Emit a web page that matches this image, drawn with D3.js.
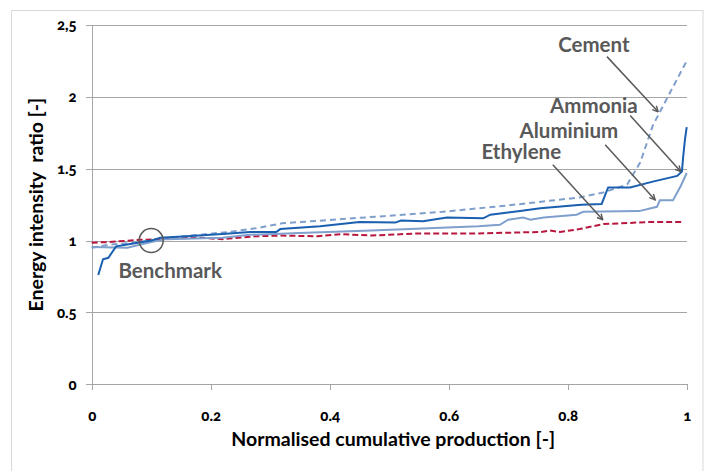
<!DOCTYPE html>
<html>
<head>
<meta charset="utf-8">
<script src="https://d3js.org/d3.v7.min.js"></script>
<style>
body { margin: 0; background: #fff; }
text { font-family: Lato, "Open Sans", sans-serif; }
.grid line { stroke: #a6a6a6; shape-rendering: crispEdges; }
.grid path { stroke-width: 0; }
.axis path, .axis line { stroke: #a6a6a6; shape-rendering: crispEdges; }
.axis text { font-size: 15px; font-weight: 900; fill: #000; font-variant-numeric: oldstyle-nums; }
.note { font-size: 20.5px; font-weight: bold; fill: #595959; }
.title { font-size: 19.5px; font-weight: bold; fill: #000; }
</style>
</head>
<body>
<svg></svg>
<script>

// values: [normalised cumulative production, energy intensity ratio]
var ammonia = [[0.011,0.76],[0.019,0.87],[0.028,0.88],[0.041,0.96],[0.07,0.98],[0.1,1.0],[0.115,1.02],
    [0.16,1.03],[0.22,1.045],[0.266,1.06],[0.31,1.06],[0.317,1.08],[0.384,1.1],[0.45,1.13],[0.51,1.125],
    [0.52,1.14],[0.557,1.135],[0.597,1.16],[0.658,1.155],[0.67,1.18],[0.72,1.205],[0.754,1.225],
    [0.823,1.25],[0.857,1.255],[0.868,1.37],[0.905,1.37],[0.943,1.41],[0.984,1.45],[0.992,1.48],
    [0.994,1.58],[0.997,1.70],[1.0,1.79]];
var aluminium = [[0,0.955],[0.06,0.95],[0.1,0.99],[0.125,1.01],[0.22,1.02],[0.266,1.04],[0.36,1.055],
    [0.47,1.07],[0.535,1.08],[0.65,1.1],[0.686,1.11],[0.7,1.145],[0.725,1.16],[0.737,1.145],[0.76,1.16],
    [0.815,1.18],[0.826,1.2],[0.92,1.205],[0.95,1.235],[0.955,1.28],[0.977,1.28],[0.99,1.38],[1.0,1.47]];
var cement = [[0,0.95],[0.028,0.97],[0.08,0.99],[0.13,1.02],[0.23,1.06],[0.275,1.085],[0.32,1.12],
    [0.405,1.145],[0.49,1.17],[0.59,1.2],[0.70,1.245],[0.82,1.30],[0.86,1.335],[0.9,1.39],[0.922,1.545],
    [0.943,1.80],[0.972,2.03],[1.0,2.25]];
var ethylene = [[0,0.985],[0.03,0.99],[0.08,1.005],[0.18,1.02],[0.22,1.01],[0.275,1.03],[0.32,1.035],
    [0.38,1.03],[0.42,1.045],[0.47,1.035],[0.55,1.05],[0.65,1.05],[0.755,1.06],[0.77,1.07],[0.787,1.06],
    [0.82,1.08],[0.86,1.115],[0.943,1.13],[0.994,1.13]];

var xTicks = [0, 0.2, 0.4, 0.6, 0.8, 1];
var xTickLabels = ["0", "0.2", "0.4", "0.6", "0.8", "1"];
var yTicks = [0, 0.5, 1, 1.5, 2, 2.5];
var yTickLabels = ["0", "0.5", "1", "1.5", "2", "2,5"];

// annotation labels and arrows, in data units
var labels = [["Cement", 0.844, 2.314], ["Ammonia", 0.844, 1.89], ["Aluminium", 0.802, 1.715],
    ["Ethylene", 0.722, 1.568], ["Benchmark", 0.132, 0.74]];
var arrows = [[0.866, 2.28, 0.952, 1.896], [0.905, 1.87, 0.99, 1.48],
    [0.863, 1.666, 0.947, 1.283], [0.775, 1.528, 0.859, 1.145]];
var benchmark = [0.1, 1.0];

var mLeft = 91.7, mTop = 25, width = 595, height = 359.3;

var svg = d3.select("svg").attr("width", 709).attr("height", 471);

// outer frame
svg.append("rect")
    .attr("x", 11.5).attr("y", 10.5)
    .attr("width", 691.5).attr("height", 480)
    .style("fill", "none")
    .style("stroke", "#d9d9d9");

var x = d3.scaleLinear().domain([0, 1]).range([0, width]);
var y = d3.scaleLinear().domain([0, 2.5]).range([height, 0]);

var g = svg.append("g").attr("transform", "translate(" + mLeft + "," + mTop + ")");

// horizontal gridlines
g.append("g")
    .attr("class", "grid")
    .call(d3.axisLeft(y).tickValues(yTicks.slice(1)).tickSize(-width).tickFormat(''));

// Y axis
g.append("g")
    .attr("class", "axis")
    .call(d3.axisLeft(y).tickValues(yTicks).tickSize(6).tickSizeOuter(0).tickPadding(9)
        .tickFormat(function(d, i) { return yTickLabels[i]; }));

// X axis
g.append("g")
    .attr("class", "axis")
    .attr("transform", "translate(0," + height + ")")
    .call(d3.axisBottom(x).tickValues(xTicks).tickSize(6).tickSizeOuter(0).tickPadding(20)
        .tickFormat(function(d, i) { return xTickLabels[i]; }));

// axis titles
svg.append("text")
    .attr("class", "title")
    .attr("x", mLeft + width / 2 + 4)
    .attr("y", 446)
    .attr("text-anchor", "middle")
    .text("Normalised cumulative production [-]");

svg.append("text")
    .attr("class", "title")
    .attr("transform", "translate(43," + (mTop + height / 2) + ") rotate(-90)")
    .attr("text-anchor", "middle")
    .style("white-space", "pre")
    .text("Energy intensity  ratio [-]");

var line = d3.line()
    .x(function(d) { return x(d[0]); })
    .y(function(d) { return y(d[1]); });

// series
g.append("path").datum(ethylene).attr("d", line)
    .style("fill", "none").style("stroke", "#b8173e").style("stroke-width", 2)
    .style("stroke-dasharray", "6,3");
g.append("path").datum(cement).attr("d", line)
    .style("fill", "none").style("stroke", "#7f9fcd").style("stroke-width", 2)
    .style("stroke-dasharray", "6,4");
g.append("path").datum(aluminium).attr("d", line)
    .style("fill", "none").style("stroke", "#7f9fcd").style("stroke-width", 2);
g.append("path").datum(ammonia).attr("d", line)
    .style("fill", "none").style("stroke", "#1a5fb0").style("stroke-width", 2);

// benchmark circle
g.append("circle")
    .attr("cx", x(benchmark[0])).attr("cy", y(benchmark[1]))
    .attr("r", 12)
    .style("fill", "none").style("stroke", "#595959").style("stroke-width", 1.5);

// arrow head
svg.append("defs").append("marker")
    .attr("id", "head")
    .attr("viewBox", "0 0 10 10")
    .attr("refX", 9).attr("refY", 5)
    .attr("markerWidth", 7).attr("markerHeight", 7)
    .attr("markerUnits", "userSpaceOnUse")
    .attr("orient", "auto")
    .append("path")
    .attr("d", "M1,1 L9,5 L1,9")
    .style("fill", "none").style("stroke", "#595959").style("stroke-width", 2);

g.selectAll(".arrow")
    .data(arrows)
    .enter().append("line")
    .attr("class", "arrow")
    .attr("x1", function(d) { return x(d[0]); })
    .attr("y1", function(d) { return y(d[1]); })
    .attr("x2", function(d) { return x(d[2]); })
    .attr("y2", function(d) { return y(d[3]); })
    .style("stroke", "#595959").style("stroke-width", 1.5)
    .attr("marker-end", "url(#head)");

g.selectAll(".note")
    .data(labels)
    .enter().append("text")
    .attr("class", "note")
    .attr("x", function(d) { return x(d[1]); })
    .attr("y", function(d) { return y(d[2]); })
    .attr("text-anchor", "middle")
    .text(function(d) { return d[0]; });

</script>
</body>
</html>
